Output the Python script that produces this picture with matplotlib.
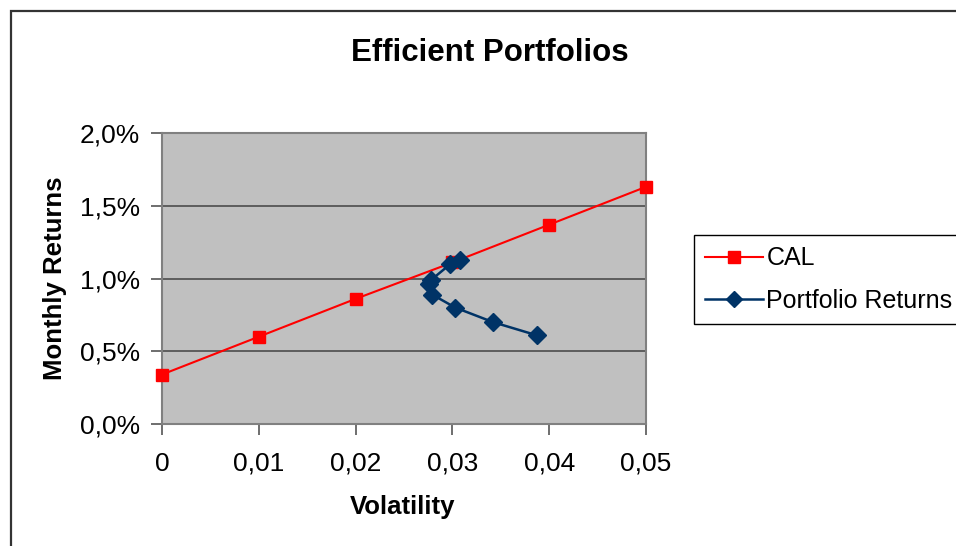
import matplotlib
matplotlib.use("Agg")
import matplotlib.pyplot as plt
from matplotlib.patches import Rectangle
from matplotlib.ticker import FuncFormatter

plt.rcParams['font.family'] = ['Liberation Sans', 'DejaVu Sans']

# Data
cal_vol = [0.0, 0.01, 0.02, 0.03, 0.04, 0.05]
cal_ret = [0.0034, 0.0060, 0.0086, 0.0111, 0.0137, 0.0163]

port_vol = [0.0387, 0.0342, 0.0303, 0.0279, 0.0276, 0.0278, 0.0298, 0.0308]
port_ret = [0.0061, 0.0070, 0.0080, 0.0089, 0.0096, 0.0099, 0.0110, 0.0113]

x_ticks = [0, 0.01, 0.02, 0.03, 0.04, 0.05]
y_ticks = [0.0, 0.005, 0.010, 0.015, 0.020]

W, H = 956, 546
fig = plt.figure(figsize=(W / 100, H / 100), dpi=100)

# outer chart border (clipped at right/bottom)
fig.patches.append(Rectangle((11 / W, -0.1), 2.0, 1 - 11 / H + 0.1, transform=fig.transFigure,
                             fill=False, edgecolor='#333333', linewidth=1.6))

ax = fig.add_axes([162 / W, 1 - 424 / H, 484 / W, 291 / H])
ax.set_facecolor('#C0C0C0')

ax.plot(cal_vol, cal_ret, color='#FF0000', linewidth=1.5, marker='s', markersize=9,
        markeredgecolor='#FF0000', markerfacecolor='#FF0000', label='CAL', zorder=3,
        clip_on=False)
ax.plot(port_vol, port_ret, color='#003366', linewidth=1.8, marker='D', markersize=9,
        markeredgecolor='#003366', markerfacecolor='#003366', label='Portfolio Returns',
        zorder=4, clip_on=False)

ax.set_xlim(0, 0.05)
ax.set_ylim(0, 0.02)
ax.set_xticks(x_ticks)
ax.set_yticks(y_ticks)
ax.xaxis.set_major_formatter(FuncFormatter(lambda v, p: '0' if abs(v) < 1e-12 else f'{v:.2f}'.replace('.', ',')))
ax.yaxis.set_major_formatter(FuncFormatter(lambda v, p: f'{v * 100:.1f}%'.replace('.', ',')))
ax.tick_params(axis='both', direction='out', length=8, width=1.2, color='#555555',
               labelsize=19, labelcolor='black')
ax.tick_params(axis='x', pad=12)
ax.tick_params(axis='y', pad=8)
ax.grid(axis='y', color='#555555', linewidth=1.3)
ax.set_axisbelow(True)
for s in ax.spines.values():
    s.set_color('#808080')
    s.set_linewidth(1.5)

fig.text(490 / W, 1 - 53 / H, 'Efficient Portfolios', ha='center', va='center',
         fontsize=22.5, fontweight='bold')
fig.text(55 / W, 1 - 278 / H, 'Monthly Returns', ha='center', va='center', rotation=90,
         fontsize=18.5, fontweight='bold')
fig.text(403 / W, 1 - 507 / H, 'Volatility', ha='center', va='center',
         fontsize=18.5, fontweight='bold')

leg = fig.legend(loc='upper left', bbox_to_anchor=(694 / W, 1 - 235 / H), fontsize=18,
                 frameon=True, fancybox=False, edgecolor='black', framealpha=1,
                 handlelength=2.3, handletextpad=0.15, labelspacing=0.75,
                 borderpad=0.45, borderaxespad=0)
leg.get_frame().set_linewidth(1.0)
for h in leg.legend_handles:
    h.set_markersize(8)

fig.savefig('out.png', dpi=100)
